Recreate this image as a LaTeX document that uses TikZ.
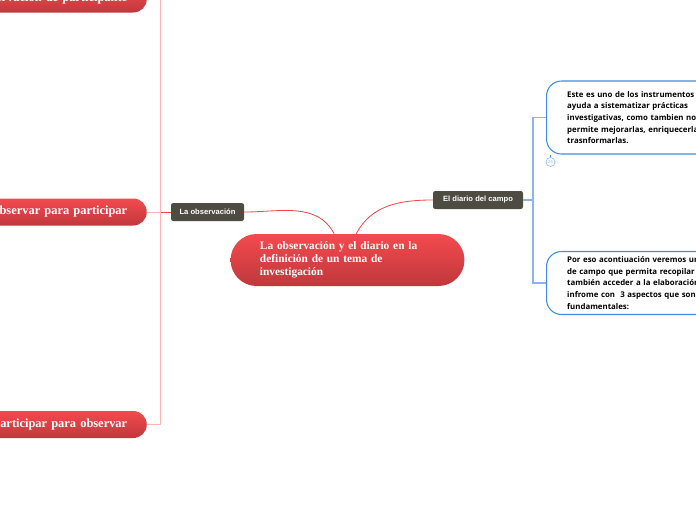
\documentclass[tikz,border=0pt]{standalone}
\usepackage{fontspec}
\setmainfont{Liberation Serif}
\setsansfont{Open Sans}
\newfontfamily\tagfont{Liberation Sans}
\usetikzlibrary{
  arrows.meta,
  positioning,
  shapes.misc
}
\definecolor{mindRedTop}{HTML}{F44A4E}
\definecolor{mindRedBottom}{HTML}{BF383C}
\definecolor{mindLink}{HTML}{F0494C}
\definecolor{mindTrunk}{HTML}{FFB4B4}
\definecolor{mindGray}{HTML}{4D4B42}
\definecolor{mindBlue}{HTML}{3D8EE0}
\definecolor{mindBlueLine}{HTML}{8CB4F4}
\tikzset{
  mainTopic/.style={
    rounded rectangle,
    top color=mindRedTop,
    bottom color=mindRedBottom,
    text=white,
    align=left,
    font=\bfseries\fontsize{9.7}{11.2}\selectfont
  },
  subTopic/.style={
    rounded rectangle,
    top color=mindRedTop,
    bottom color=mindRedBottom,
    text=white,
    align=right,
    text width=6cm,
    inner xsep=0.55cm,
    minimum height=0.81cm,
    anchor=east,
    font=\bfseries\fontsize{10.6}{12}\selectfont
  },
  tagBox/.style={
    fill=mindGray,
    rounded corners=2pt,
    text=white,
    minimum height=0.54cm,
    inner xsep=2pt,
    font=\tagfont\bfseries\fontsize{6.5}{8}\selectfont
  },
  noteBox/.style={
    draw=mindBlue,
    fill=white,
    line width=0.9pt,
    rounded corners=0.45cm,
    anchor=west,
    align=left,
    text width=6cm,
    inner xsep=0.62cm,
    font=\sffamily\bfseries\fontsize{6.7}{10}\selectfont
  },
  rootLink/.style={mindLink, line width=0.7pt},
  trunkLine/.style={mindTrunk, line width=0.8pt},
  blueLine/.style={mindBlueLine, line width=1pt}
}
\begin{document}
\begin{tikzpicture}[x=0.03cm,y=-0.03cm]
  \useasboundingbox (0,0) rectangle (696,520);
  \clip (0,0) rectangle (696,520);

  % central topic
  \node[mainTopic, minimum width=7.25cm, minimum height=1.56cm, text width=5.25cm]
    (root) at (347.5,260)
    {La observación y el diario en la\\definición de un tema de\\investigación};

  % main branches
  \node[tagBox, minimum width=2.19cm] (obs) at (207.5,212) {La observación};
  \node[tagBox, minimum width=2.7cm] (diario) at (478,200) {El diario del campo};

  \draw[rootLink] ([xshift=-0.4cm]root.north) to[out=118, in=0] (obs.east);
  \draw[rootLink] ([xshift=0.26cm]root.north) to[out=62, in=180] (diario.west);

  % left side
  \node[subTopic] (partObs) at (147,-1) {Observación de participante};
  \node[subTopic] (obsPart) at (147,212) {Observar para participar};
  \node[subTopic] (partPara) at (147,424.5) {Participar para observar};

  \coordinate (hubL) at (160.5,212);
  \draw[trunkLine] (partObs.east) -| (hubL) |- (partPara.east);
  \draw[trunkLine] (obsPart.east) -- (hubL);
  \draw[rootLink] (hubL) -- (obs.west);

  % right side
  \node[noteBox, minimum height=2.19cm] (noteA) at (546,117.5)
    {Este es uno de los instrumentos que nos\\
     ayuda a sistematizar prácticas\\
     investigativas, como tambien nos\\
     permite mejorarlas, enriquecerlas y\\
     trasnformarlas.};
  \node[noteBox, minimum height=1.89cm] (noteB) at (546,283)
    {Por eso acontiuación veremos un diario\\
     de campo que permita recopilar y\\
     también acceder a la elaboración del\\
     infrome con~ 3 aspectos que son\\
     fundamentales:};

  \coordinate (hubR) at (533,200);
  \draw[blueLine] (diario.east) -- (hubR);
  \draw[blueLine] (noteA.west) -| (hubR) |- (noteB.west);

  % folded marker
  \node[circle, draw=mindBlueLine, line width=0.5pt, inner sep=0pt, minimum size=0.27cm,
    text=mindBlueLine, font=\sffamily\fontsize{3.5}{4}\selectfont]
    (fold) at (550.5,162) {26};
  \draw[mindBlue, line width=0.5pt] (fold.north) -- ++(0,-2.5);
\end{tikzpicture}
\end{document}
